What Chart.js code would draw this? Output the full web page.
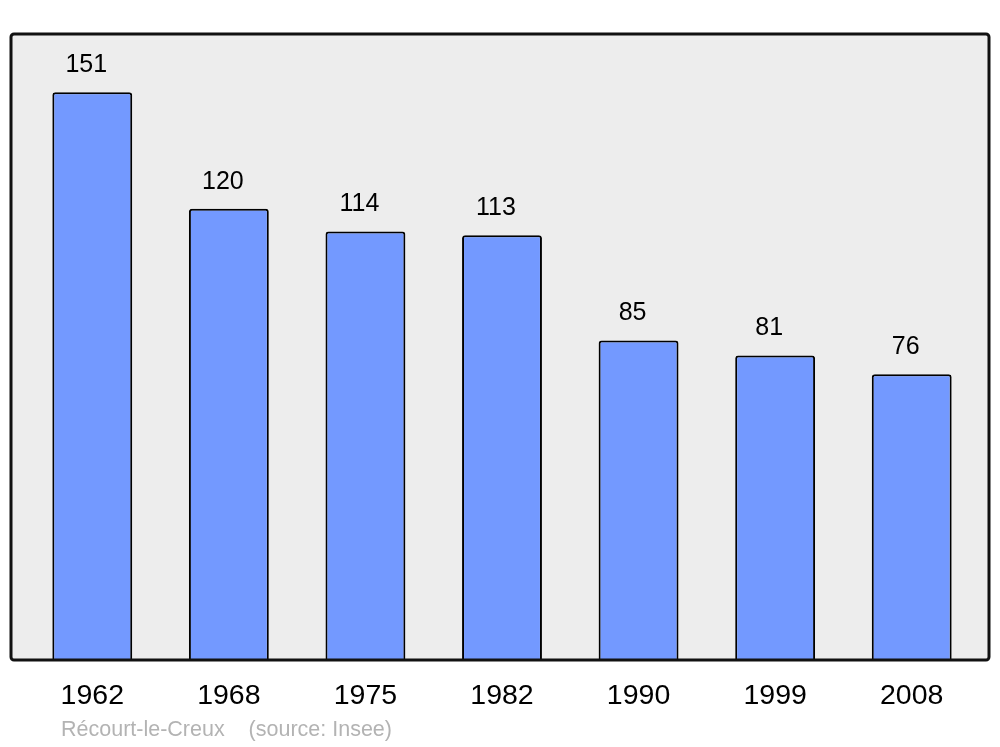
<!DOCTYPE html>
<html>
<head>
<meta charset="utf-8">
<script src="https://cdn.jsdelivr.net/npm/chart.js@4/dist/chart.umd.min.js"></script>
<style>
  html, body { margin: 0; padding: 0; background: #fff; }
  #wrap { width: 1000px; height: 747px; }
</style>
</head>
<body>
<div id="wrap"><canvas id="popChart" width="1000" height="747"></canvas></div>
<script>
const years = ["1962", "1968", "1975", "1982", "1990", "1999", "2008"];
const population = [151, 120, 114, 113, 85, 81, 76];
const sourceText = "Récourt-le-Creux    (source: Insee)";

// grey framed panel behind the bars
const framePlugin = {
  id: "frame",
  beforeDraw(chart) {
    const { ctx, chartArea } = chart;
    const x = chartArea.left - 13, y = chartArea.top;
    const w = chartArea.right + 9 - x, h = chartArea.bottom - y;
    ctx.save();
    ctx.beginPath();
    ctx.roundRect(x, y, w, h, 3);
    ctx.fillStyle = "#ededed";
    ctx.fill();
    ctx.restore();
  },
  afterDatasetsDraw(chart) {
    const { ctx, chartArea } = chart;
    const x = chartArea.left - 13, y = chartArea.top;
    const w = chartArea.right + 9 - x, h = chartArea.bottom - y;
    ctx.save();
    ctx.beginPath();
    ctx.roundRect(x, y, w, h, 3);
    ctx.lineWidth = 3;
    ctx.strokeStyle = "#111";
    ctx.stroke();

    // values above bars
    ctx.font = "25px 'Liberation Sans', Arial, sans-serif";
    ctx.fillStyle = "#000";
    ctx.textAlign = "center";
    ctx.textBaseline = "middle";
    chart.getDatasetMeta(0).data.forEach((bar, i) => {
      ctx.fillText(String(population[i]), bar.x - 6, bar.y - 27);
    });

    // source line
    ctx.font = "21.5px 'Liberation Sans', Arial, sans-serif";
    ctx.fillStyle = "#b3b3b3";
    ctx.textAlign = "left";
    ctx.fillText(sourceText, 61, 730);
    ctx.restore();
  }
};

new Chart(document.getElementById("popChart"), {
  type: "bar",
  data: {
    labels: years,
    datasets: [{
      data: population,
      backgroundColor: "#7399ff",
      borderColor: "#000",
      borderWidth: 2,
      borderRadius: 3,
      borderSkipped: "bottom",
      barPercentage: 0.585,
      categoryPercentage: 1
    }]
  },
  options: {
    responsive: false,
    animation: false,
    layout: { padding: { left: 24, right: 20, top: 34, bottom: 0 } },
    plugins: { legend: { display: false }, tooltip: { enabled: false } },
    scales: {
      y: { display: false, min: 0, max: 166.5 },
      x: {
        grid: { display: false, drawTicks: false },
        border: { display: false },
        ticks: {
          color: "#000",
          padding: 19,
          font: { family: "'Liberation Sans', Arial, sans-serif", size: 28.5 }
        },
        afterFit(scale) { scale.height = 87; }
      }
    }
  },
  plugins: [framePlugin]
});
</script>
</body>
</html>
